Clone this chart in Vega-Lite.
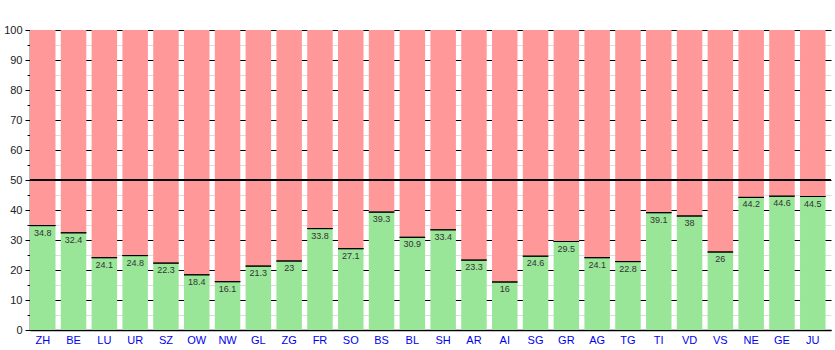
{
  "$schema": "https://vega.github.io/schema/vega-lite/v6.json",
  "autosize": "none",
  "width": 801,
  "height": 300,
  "padding": {"left": 30, "top": 30, "right": 4, "bottom": 20},
  "background": "white",
  "config": {"view": {"stroke": null}, "font": "Liberation Sans"},
  "data": {"values": [
    {"k": "ZH", "v": 34.8}, {"k": "BE", "v": 32.4}, {"k": "LU", "v": 24.1}, {"k": "UR", "v": 24.8},
    {"k": "SZ", "v": 22.3}, {"k": "OW", "v": 18.4}, {"k": "NW", "v": 16.1}, {"k": "GL", "v": 21.3},
    {"k": "ZG", "v": 23}, {"k": "FR", "v": 33.8}, {"k": "SO", "v": 27.1}, {"k": "BS", "v": 39.3},
    {"k": "BL", "v": 30.9}, {"k": "SH", "v": 33.4}, {"k": "AR", "v": 23.3}, {"k": "AI", "v": 16},
    {"k": "SG", "v": 24.6}, {"k": "GR", "v": 29.5}, {"k": "AG", "v": 24.1}, {"k": "TG", "v": 22.8},
    {"k": "TI", "v": 39.1}, {"k": "VD", "v": 38}, {"k": "VS", "v": 26}, {"k": "NE", "v": 44.2},
    {"k": "GE", "v": 44.6}, {"k": "JU", "v": 44.5}
  ]},
  "encoding": {
    "y": {
      "field": "v", "type": "quantitative", "title": null,
      "scale": {"domain": [0, 100], "nice": false},
      "axis": {
        "values": [0,5,10,15,20,25,30,35,40,45,50,55,60,65,70,75,80,85,90,95,100],
        "labelExpr": "datum.value % 10 === 0 ? datum.label : ''",
        "labelOverlap": false,
        "labelFontSize": 11, "labelColor": "#222", "labelPadding": 3,
        "domainColor": "black", "domainWidth": 1.5,
        "tickColor": "black",
        "tickSize": {"condition": {"test": "datum.value % 10 === 0", "value": 5}, "value": 3},
        "gridColor": {"condition": {"test": "datum.value % 10 === 0", "value": "black"}, "value": "#dddddd"},
        "gridWidth": 1
      }
    }
  },
  "layer": [
    {
      "encoding": {
        "x": {
          "field": "k", "type": "nominal", "sort": null, "title": null,
          "scale": {"paddingInner": 0.172, "paddingOuter": 0.089, "align": 0},
          "axis": {"ticks": false, "labelAngle": 0, "labelColor": "#0000ee", "labelFontSize": 11, "labelPadding": 4, "domainColor": "black", "domainWidth": 1.5, "grid": false}
        }
      },
      "layer": [
        {
          "mark": {"type": "bar", "color": "#ff9999"},
          "encoding": {"y2": {"datum": 100}}
        },
        {
          "mark": {"type": "bar", "color": "#99e699"}
        },
        {
          "mark": {"type": "bar", "stroke": "black", "strokeWidth": 1, "fill": null},
          "encoding": {"y2": {"field": "v"}}
        },
        {
          "mark": {"type": "text", "baseline": "top", "dy": 3, "fontSize": 9, "color": "#333"},
          "encoding": {"text": {"field": "v", "type": "quantitative"}}
        }
      ]
    },
    {
      "mark": {"type": "rule", "color": "black", "strokeWidth": 1},
      "encoding": {"y": {"datum": 50}}
    }
  ]
}
